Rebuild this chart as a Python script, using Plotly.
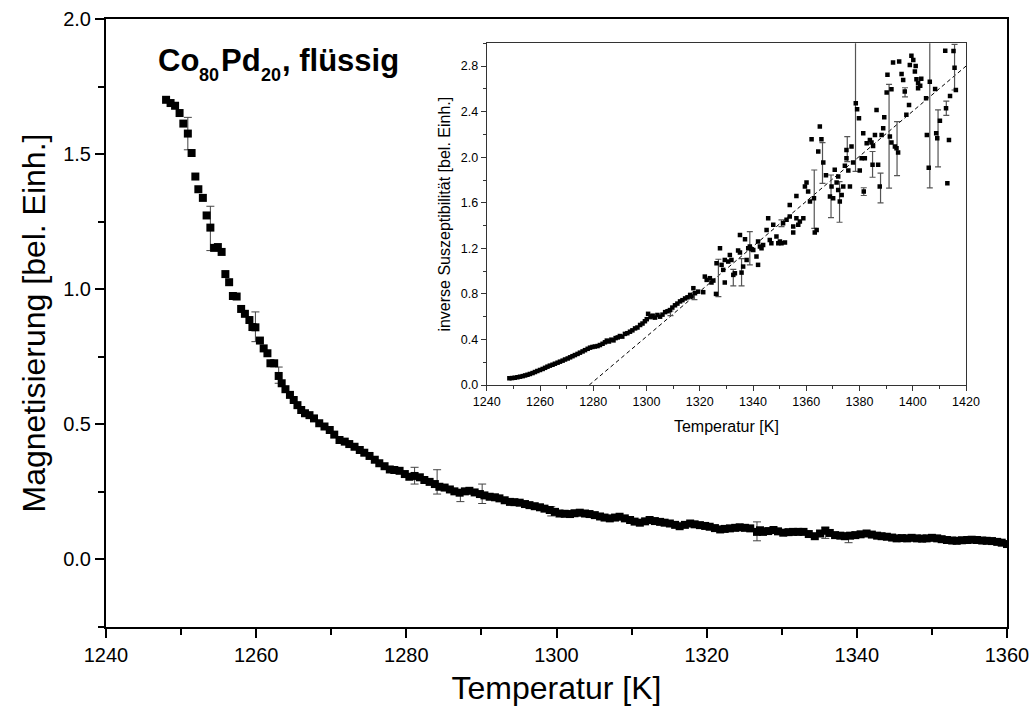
import plotly.graph_objects as go

# ---------------- main curve: magnetisation vs temperature ----------------
T_main = [1248.0, 1248.6, 1249.2, 1249.8, 1250.3, 1250.9, 1251.4, 1251.9, 1252.3, 1252.9,
          1253.4, 1253.9, 1254.4, 1254.9, 1255.4, 1255.9, 1256.4, 1256.9, 1257.4, 1258.0,
          1258.5, 1259.1, 1259.5, 1259.9, 1260.5, 1261.0, 1261.5, 1261.9, 1262.4, 1263.0,
          1263.4, 1263.9, 1264.5, 1265.0, 1265.5, 1266.0, 1266.5, 1267.1, 1267.7,
          1268.4, 1269.1, 1269.8, 1270.4, 1271.1, 1271.8, 1272.4, 1273.1, 1273.8, 1274.4,
          1275.1, 1275.8, 1276.4, 1277.1, 1277.8, 1278.4, 1279.1, 1279.8, 1280.4, 1281.1,
          1281.8, 1282.4, 1283.1, 1283.8, 1284.4, 1285.1, 1285.8, 1286.4, 1287.1, 1287.8,
          1288.4, 1289.1, 1289.8, 1290.4, 1291.1, 1291.8, 1292.4, 1293.1, 1293.8, 1294.4,
          1295.1, 1295.8, 1296.4, 1297.1, 1297.8, 1298.4, 1299.1, 1299.8, 1300.4, 1301.1,
          1301.8, 1302.4, 1303.1, 1303.8, 1304.4, 1305.1, 1305.8, 1306.4, 1307.1, 1307.8,
          1308.4, 1309.1, 1309.8, 1310.4, 1311.1, 1311.8, 1312.4, 1313.1, 1313.8, 1314.4,
          1315.1, 1315.8, 1316.4, 1317.1, 1317.8, 1318.4, 1319.1, 1319.8, 1320.4, 1321.1,
          1321.8, 1322.4, 1323.1, 1323.8, 1324.4, 1325.1, 1325.8, 1326.7, 1327.1, 1327.5,
          1328.2, 1328.9, 1329.5, 1330.2, 1330.9, 1331.5, 1332.2, 1332.9, 1333.6, 1334.4,
          1335.1, 1335.8, 1336.4, 1337.1, 1337.8, 1338.4, 1339.1, 1339.8, 1340.5, 1341.3,
          1342.0, 1342.7, 1343.3, 1344.0, 1344.7, 1345.3, 1346.0, 1346.7, 1347.3, 1348.0,
          1348.7, 1349.3, 1350.0, 1350.7, 1351.3, 1352.0, 1352.7, 1353.3, 1354.0, 1354.7,
          1355.3, 1356.0, 1356.7, 1357.3, 1358.0, 1358.7, 1359.3, 1360.0]
M_main = [1.701, 1.689, 1.679, 1.652, 1.613, 1.576, 1.504, 1.417, 1.370, 1.338,
          1.273, 1.228, 1.153, 1.156, 1.138, 1.056, 1.026, 0.975, 0.973, 0.927,
          0.909, 0.886, 0.860, 0.859, 0.810, 0.781, 0.763, 0.726, 0.726, 0.679,
          0.652, 0.630, 0.609, 0.590, 0.571, 0.553, 0.541, 0.534, 0.522,
          0.504, 0.492, 0.479, 0.462, 0.442, 0.436, 0.427, 0.417, 0.405, 0.395,
          0.383, 0.369, 0.356, 0.345, 0.333, 0.331, 0.328, 0.316, 0.306, 0.309,
          0.304, 0.294, 0.287, 0.279, 0.269, 0.266, 0.259, 0.252, 0.247, 0.252,
          0.254, 0.248, 0.242, 0.237, 0.232, 0.230, 0.226, 0.219, 0.213, 0.212,
          0.210, 0.205, 0.201, 0.197, 0.193, 0.188, 0.183, 0.176, 0.170, 0.169,
          0.168, 0.171, 0.173, 0.170, 0.168, 0.164, 0.159, 0.155, 0.152, 0.155,
          0.158, 0.152, 0.146, 0.140, 0.136, 0.141, 0.146, 0.142, 0.139, 0.136,
          0.133, 0.128, 0.123, 0.128, 0.133, 0.130, 0.127, 0.124, 0.121, 0.116,
          0.111, 0.113, 0.115, 0.117, 0.119, 0.117, 0.115, 0.102, 0.108, 0.102,
          0.105, 0.109, 0.104, 0.099, 0.101, 0.102, 0.102, 0.102, 0.094, 0.086,
          0.096, 0.106, 0.098, 0.090, 0.088, 0.086, 0.088, 0.090, 0.093, 0.096,
          0.092, 0.088, 0.086, 0.084, 0.081, 0.078, 0.079, 0.078, 0.080, 0.078,
          0.077, 0.078, 0.080, 0.078, 0.075, 0.072, 0.070, 0.069, 0.071, 0.072,
          0.073, 0.072, 0.070, 0.069, 0.068, 0.065, 0.062, 0.057]

T_err_main = [1250.9, 1253.9, 1259.9, 1263.0, 1281.1, 1284.1, 1287.2, 1290.1, 1299.3, 1326.7, 1335.8, 1338.9]
M_err_main = [1.576, 1.225, 0.861, 0.682, 0.310, 0.287, 0.234, 0.243, 0.178, 0.104, 0.099, 0.080]
E_main = [0.060, 0.082, 0.055, 0.030, 0.031, 0.045, 0.020, 0.036, 0.017, 0.035, 0.021, 0.018]

# ---------------- inset: inverse susceptibility ----------------
T_inv = [1248.5, 1249.5, 1250.5, 1251.5, 1252.5, 1253.5, 1254.4, 1255.3, 1256.2, 1257.2,
         1258.1, 1259.0, 1260.0, 1261.0, 1261.9, 1262.8, 1263.7, 1264.7, 1265.6, 1266.6,
         1267.5, 1268.5, 1269.4, 1270.4, 1271.3, 1272.2, 1273.1, 1274.1, 1275.0, 1276.0,
         1276.9, 1277.9, 1278.8, 1279.7, 1280.6, 1281.6, 1282.5, 1283.5, 1284.4, 1285.1,
         1285.9, 1286.8, 1287.6, 1288.4, 1289.2, 1290.0, 1290.9, 1291.9, 1292.8, 1293.8,
         1294.7, 1295.7, 1296.6, 1297.6, 1298.5, 1299.4, 1300.1, 1300.6, 1301.5, 1302.3,
         1303.2, 1304.1, 1305.1, 1306.0, 1307.0, 1307.9, 1308.8, 1309.7, 1310.7, 1311.6,
         1312.6, 1313.5, 1314.5, 1315.4, 1316.4,
         1316.9, 1318.2, 1319.4, 1321.3, 1317.6, 1322.6, 1323.8, 1321.9, 1325.1, 1324.4,
         1326.1, 1327.6, 1326.3, 1328.2, 1329.4, 1330.7, 1331.9, 1331.3, 1328.8, 1329.4,
         1333.2, 1332.6, 1335.7, 1336.3, 1335.1, 1334.4, 1335.1, 1337.0, 1338.2, 1339.5,
         1338.8, 1337.6, 1340.1, 1341.3, 1341.9, 1342.6, 1343.2, 1343.8, 1341.9, 1345.7,
         1345.1, 1346.3, 1346.9, 1347.6, 1348.8, 1349.5, 1350.1, 1350.7, 1352.0, 1351.3,
         1352.6, 1353.8, 1353.8, 1355.1, 1356.3, 1357.0, 1357.6, 1358.9, 1355.1, 1356.3,
         1359.5, 1360.1, 1360.7, 1361.4, 1362.9, 1363.2, 1363.9, 1362.0, 1365.1, 1364.5,
         1365.7, 1366.4, 1367.4, 1368.9, 1370.1, 1369.5, 1370.7, 1372.0, 1372.6, 1373.3,
         1373.9, 1372.0, 1371.4, 1375.1, 1375.1, 1374.5, 1376.4, 1377.0, 1375.8, 1377.6,
         1378.6, 1379.1, 1379.8, 1380.1, 1380.8, 1381.6, 1382.0, 1381.4, 1382.7, 1383.9,
         1384.5, 1385.1, 1385.8, 1384.9, 1387.0, 1387.6, 1388.3, 1386.4, 1389.3, 1388.9,
         1390.2, 1390.5, 1391.4, 1392.0, 1392.0, 1393.3, 1393.9, 1394.5, 1392.6, 1394.9,
         1396.4, 1397.0, 1395.8, 1397.6, 1398.6, 1399.5, 1400.2, 1398.9, 1400.8, 1401.4,
         1402.0, 1402.0, 1401.1, 1402.8, 1403.2, 1405.3, 1405.0, 1406.0, 1406.4, 1408.4,
         1408.8, 1409.2, 1410.2, 1412.2, 1412.5, 1413.0, 1413.6, 1414.0, 1415.3, 1415.7,
         1416.2]
V_inv = [0.059, 0.061, 0.064, 0.068, 0.073, 0.078, 0.084, 0.090, 0.097, 0.105,
         0.114, 0.123, 0.132, 0.141, 0.151, 0.161, 0.170, 0.178, 0.187, 0.196,
         0.205, 0.214, 0.224, 0.233, 0.243, 0.253, 0.263, 0.273, 0.284, 0.295,
         0.306, 0.318, 0.328, 0.334, 0.338, 0.342, 0.351, 0.362, 0.375, 0.390,
         0.382, 0.398, 0.392, 0.412, 0.418, 0.430, 0.425, 0.449, 0.455, 0.468,
         0.480, 0.497, 0.505, 0.527, 0.540, 0.560, 0.578, 0.625, 0.600, 0.608,
         0.592, 0.615, 0.600, 0.618, 0.640, 0.648, 0.658, 0.680, 0.700, 0.715,
         0.734, 0.745, 0.760, 0.770, 0.791,
         0.777, 0.806, 0.820, 0.815, 0.850, 0.923, 0.938, 0.952, 0.917, 0.900,
         0.800, 1.201, 1.069, 1.055, 1.098, 1.084, 1.098, 1.142, 1.011, 0.900,
         0.981, 0.967, 0.987, 1.040, 1.163, 1.180, 1.318, 1.280, 1.201, 1.192,
         1.216, 1.098, 1.186, 1.128, 1.055, 1.216, 1.201, 1.230, 1.259, 1.464,
         1.362, 1.274, 1.245, 1.406, 1.303, 1.245, 1.259, 1.245, 1.251, 1.420,
         1.450, 1.479, 1.581, 1.391, 1.464, 1.406, 1.435, 1.464, 1.338, 1.660,
         1.742, 1.777, 1.698, 1.611, 1.640, 1.338, 1.362, 2.158, 2.269, 2.050,
         2.158, 1.953, 1.842, 1.655, 1.640, 1.742, 1.889, 1.713, 1.611, 1.669,
         1.742, 1.830, 1.777, 2.064, 1.991, 1.924, 1.742, 2.094, 1.883, 1.953,
         2.474, 2.421, 2.342, 1.883, 1.991, 1.698, 1.991, 2.211, 2.123, 2.152,
         2.129, 2.099, 2.196, 1.933, 1.933, 1.742, 2.196, 2.415, 2.351, 2.254,
         2.568, 2.723, 2.181, 2.129, 2.597, 2.094, 2.079, 2.041, 2.831, 2.840,
         2.679, 2.576, 2.731, 2.372, 2.459, 2.890, 2.854, 2.810, 2.752, 2.685,
         2.650, 2.606, 2.800, 2.628, 2.690, 2.195, 2.517, 1.908, 2.663, 2.599,
         2.210, 2.166, 2.321, 2.935, 2.429, 1.771, 2.151, 2.537, 2.932, 2.786,
         2.590]

T_err_inv = [1302.0, 1309.0, 1318.0, 1327.0, 1332.6, 1335.7, 1338.8, 1350.7, 1363.0, 1366.1,
             1369.3, 1372.5, 1375.4, 1378.5, 1381.6, 1384.9, 1387.9, 1391.1, 1394.1, 1397.1,
             1406.4, 1409.5, 1412.6, 1415.7]
V_err_inv = [0.60, 0.63, 0.78, 0.94, 0.943, 0.99, 1.20, 1.42, 1.632, 1.95,
             1.657, 1.607, 2.071, 2.46, 1.698, 1.937, 1.73, 2.184, 2.075, 2.57,
             2.66, 2.165, 2.43, 2.79]
E_inv = [0.02, 0.02, 0.03, 0.164, 0.073, 0.12, 0.146, 0.03, 0.256, 0.179,
         0.187, 0.178, 0.11, 0.585, 0.034, 0.113, 0.13, 0.456, 0.237, 0.04,
         0.93, 0.25, 0.063, 0.2]

# Curie-Weiss fit line (dashed)
T_fit = [1278.5, 1420.0]
V_fit = [0.0, 2.8]

# label pieces
label_parts = ["Co", "80", "Pd", "20", ", flüssig"]

FONT = "Liberation Sans, Arial, sans-serif"

fig = go.Figure()

fig.add_trace(go.Scatter(
    x=T_err_main, y=M_err_main, mode="markers", showlegend=False,
    marker=dict(size=2, opacity=0),
    error_y=dict(type="data", array=E_main, color="#444444", thickness=1, width=4),
    xaxis="x", yaxis="y", hoverinfo="skip"))
fig.add_trace(go.Scatter(
    x=T_main, y=M_main, mode="markers", showlegend=False,
    marker=dict(symbol="square", size=8, color="black", line=dict(width=0)),
    xaxis="x", yaxis="y"))

fig.add_trace(go.Scatter(
    x=T_fit, y=V_fit, mode="lines", showlegend=False,
    line=dict(color="black", width=1, dash="4px,3px"),
    xaxis="x2", yaxis="y2"))
fig.add_trace(go.Scatter(
    x=T_err_inv, y=V_err_inv, mode="markers", showlegend=False,
    marker=dict(size=2, opacity=0),
    error_y=dict(type="data", array=E_inv, color="#555555", thickness=1.2, width=3),
    xaxis="x2", yaxis="y2", hoverinfo="skip"))
fig.add_trace(go.Scatter(
    x=T_inv, y=V_inv, mode="markers", showlegend=False,
    marker=dict(symbol="square", size=4.5, color="black", line=dict(width=0)),
    xaxis="x2", yaxis="y2"))

# positions of label pieces in paper coordinates (plot area 106..1007 x 19..627 px)
part_x = [(157 - 106) / 901, (198 - 106) / 901, (220 - 106) / 901, (260 - 106) / 901, (281 - 106) / 901]
part_y = [(627 - 60) / 608, (627 - 75) / 608, (627 - 60) / 608, (627 - 75) / 608, (627 - 60) / 608]
part_size = [31, 18, 31, 18, 31]

annotations = []
for txt, px, py, sz in zip(label_parts, part_x, part_y, part_size):
    annotations.append(dict(
        text="<b>" + txt + "</b>", xref="paper", yref="paper", x=px, y=py,
        xanchor="left", yanchor="middle", showarrow=False, borderpad=0,
        font=dict(size=sz, family=FONT, color="black")))

fig.update_layout(
    width=1035, height=707, autosize=False,
    margin=dict(l=106, r=28, t=19, b=80, pad=0),
    paper_bgcolor="white", plot_bgcolor="white",
    font=dict(family=FONT, color="black"),
    xaxis=dict(
        domain=[0, 1], anchor="y", range=[1240, 1360], tick0=1240, dtick=20, automargin=False,
        ticks="outside", ticklen=9, tickwidth=2, tickcolor="black",
        showline=True, linecolor="black", linewidth=2, mirror=True,
        showgrid=False, zeroline=False,
        tickfont=dict(size=20, family=FONT),
        title=dict(text="Temperatur [K]", font=dict(size=32, family=FONT), standoff=12),
        minor=dict(dtick=10, tick0=1240, ticks="outside", ticklen=6, tickwidth=2, tickcolor="black", showgrid=False),
    ),
    yaxis=dict(
        domain=[0, 1], anchor="x", range=[-0.25, 2.0], tick0=0, dtick=0.5, tickformat=".1f", automargin=False,
        ticks="outside", ticklen=9, tickwidth=2, tickcolor="black",
        showline=True, linecolor="black", linewidth=2, mirror=True,
        showgrid=False, zeroline=False,
        tickfont=dict(size=20, family=FONT),
        title=dict(text="Magnetisierung [bel. Einh.]", font=dict(size=32, family=FONT), standoff=8),
        minor=dict(dtick=0.25, tick0=0, ticks="outside", ticklen=6, tickwidth=2, tickcolor="black", showgrid=False),
    ),
    xaxis2=dict(
        domain=[0.4226, 0.9545], anchor="y2", range=[1240, 1420], tick0=1240, dtick=20, automargin=False,
        ticks="outside", ticklen=5, tickwidth=1, tickcolor="#333333",
        showline=True, linecolor="#333333", linewidth=1, mirror=True,
        showgrid=False, zeroline=False,
        tickfont=dict(size=12.5, family=FONT),
        title=dict(text="Temperatur [K]", font=dict(size=16, family=FONT), standoff=12),
        minor=dict(dtick=10, tick0=1240, ticks="outside", ticklen=3, tickwidth=1, tickcolor="#333333", showgrid=False),
    ),
    yaxis2=dict(
        domain=[0.398, 0.960], anchor="x2", range=[0, 3.0], tick0=0, dtick=0.4, tickformat=".1f", automargin=False,
        ticks="outside", ticklen=5, tickwidth=1, tickcolor="#333333",
        showline=True, linecolor="#333333", linewidth=1, mirror=True,
        showgrid=False, zeroline=False,
        tickfont=dict(size=12.5, family=FONT),
        title=dict(text="inverse Suszeptibilität [bel. Einh.]", font=dict(size=16, family=FONT), standoff=6),
        minor=dict(dtick=0.2, tick0=0, ticks="outside", ticklen=3, tickwidth=1, tickcolor="#333333", showgrid=False),
    ),
    annotations=annotations,
)

fig.write_html("out.html")
